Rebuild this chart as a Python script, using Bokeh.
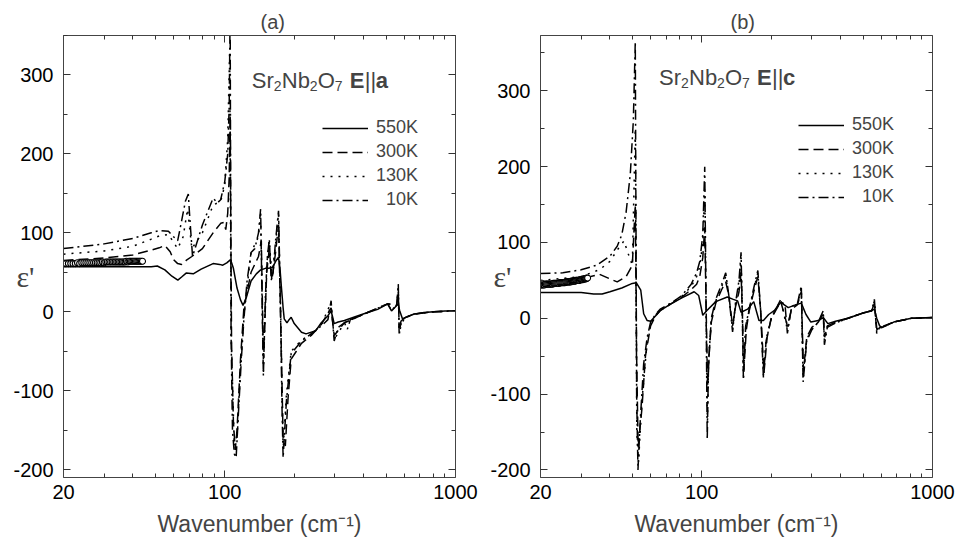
from bokeh.plotting import figure
from bokeh.models import (Range1d, FixedTicker, LogAxis, LinearAxis, Label,
                          Legend, LegendItem, PrintfTickFormatter)
from bokeh.layouts import row
from bokeh.embed import file_html
from bokeh.resources import INLINE

FONT = "Liberation Sans"

# ---------------- tick definitions ----------------
x_major = [20, 100, 1000]
x_minor = [30, 40, 50, 60, 70, 80, 90, 200, 300, 400, 500, 600, 700, 800, 900]
y_major = [-200, -100, 0, 100, 200, 300]
y_minor = [-150, -50, 50, 150, 250, 350]
temps = ["550K", "300K", "130K", "\u00a0\u00a010K"]

# ---------------- panel (a): E || a ----------------
wa_550 = [20, 30, 40, 48, 51, 55, 59, 62.6, 65, 68, 73, 79, 89, 95, 98, 102, 106, 109, 113, 117,
          120, 124, 130, 137, 143, 150, 155, 161, 167, 171, 174, 176, 179, 181, 186, 190, 194, 200,
          215, 225, 248, 262, 280, 289, 293, 298, 310, 330, 370, 416, 460, 508, 528, 556, 566, 572,
          589, 620, 660, 730, 805, 900, 1000]
ea_550 = [57, 57, 57, 57, 58, 53, 45, 40, 44, 49, 48, 54, 61, 60, 59, 62, 66, 55, 30, 15,
          8, 18, 39, 48, 53, 55, 55, 56, 65, 69, 50, 31, 5, -9, -14, -10, -7, -15,
          -26, -28, -24, -14, -5, 1, -6, -15, -13, -11, -6, -1, 3, 10, 1, 8, 10, 2,
          -9, -6, -3, -1, 0, 1, 1]

wa_300 = [20, 30, 40, 48, 52, 55, 58, 60, 62.5, 65, 68, 72, 80, 89, 96, 99, 101, 103, 104.5, 105.5,
          107, 109, 111, 113, 117, 121, 130, 140, 144, 147, 152, 156, 160, 166, 171, 175, 179, 183,
          188, 194, 215, 237, 262, 289, 298, 330, 416, 508, 556, 565, 570, 600, 660, 805, 1000]
ea_300 = [65, 68, 72, 78, 81, 84, 76, 66, 61, 60, 65, 70, 80, 100, 112, 113, 104, 125, 170, 250,
          -40, -140, -175, -150, -60, 5, 50, 70, 90, -60, 50, 80, 40, 75, 110, -20, -160, -170,
          -110, -60, -40, -30, -16, 5, -30, -14, -1, 10, 8, 25, -20, -8, -3, 0, 1]

wa_130 = [20, 30, 40, 48, 52, 57, 60, 62.5, 66, 69, 72, 80, 89, 96, 100, 103, 105, 106.5, 110, 113,
          117, 121, 130, 140, 143, 147, 152, 156, 160, 166, 171, 175, 179, 185, 194, 215, 237, 262,
          289, 298, 330, 416, 508, 556, 565, 570, 600, 660, 805, 1000]
ea_130 = [73, 77, 83, 92, 96, 98, 88, 80, 95, 130, 80, 100, 135, 140, 160, 220, 330, -30, -170, -160,
          -70, -5, 75, 95, 125, -75, 60, 90, 45, 85, 125, -10, -175, -105, -50, -36, -28, -17,
          12, -35, -14, -1, 10, 8, 30, -25, -8, -3, 0, 1]

wa_10 = [20, 30, 40, 48, 52, 57, 59.5, 62.5, 65, 67.5, 69.5, 70.5, 72.5, 80, 89, 93, 96, 100, 103,
         104.5, 105.5, 106.5, 108, 110, 112, 115, 118, 121, 125, 130, 135, 140, 143, 145, 147, 150,
         153, 156, 159, 162, 166, 171, 174, 177, 179, 185, 194, 215, 237, 262, 280, 289, 292, 298,
         310, 330, 340, 350, 416, 508, 528, 556, 565, 570, 580, 600, 660, 805, 1000]
ea_10 = [80, 86, 93, 100, 103, 102, 96, 90, 115, 140, 149, 120, 70, 110, 144, 138, 142, 165, 200,
         260, 380, -30, -150, -180, -185, -120, -60, -10, 40, 75, 80, 100, 130, 20, -81, 20,
         70, 92, 40, 50, 90, 128, 20, -120, -185, -113, -53, -37, -28, -18, -10, 14, -5, -37,
         -20, -14, -22, -10, -1, 10, 2, 8, 35, -30, -12, -8, -3, 0, 1]

wa_pts = [20, 20.5, 21, 21.5, 22, 22.5, 23, 23.5, 24, 24.5, 25, 25.5, 26, 26.5, 27, 27.5, 28,
          28.5, 29, 29.5, 30, 30.5, 31, 31.5, 32, 32.5, 33, 33.5, 34, 34.5, 35, 35.5, 36, 36.5,
          37, 37.5, 38, 38.5, 39, 39.5, 40, 40.5, 41, 41.5, 42, 42.5, 43, 43.5, 44]
ea_pts = [61, 61, 61, 61, 61, 61, 62, 61, 62, 62, 62, 62, 62, 62, 62, 62, 62, 62, 62, 63,
          62, 63, 63, 63, 63, 63, 63, 63, 63, 63, 63, 63, 63, 63, 63, 64, 63, 64, 64, 64,
          64, 64, 64, 64, 64, 64, 64, 64, 64]

# ---------------- panel (b): E || c ----------------
wb_550 = [20, 25, 30, 34, 37, 40, 45, 50, 52, 54.4, 56, 58, 60, 63, 66, 73.5, 82, 92.7, 97, 101,
          105, 115, 129, 137, 143, 148, 158, 168, 177, 185, 195, 206, 220, 237, 251, 270, 283, 297,
          320, 336, 352, 380, 430, 500, 545, 560, 573, 590, 605, 679, 810, 1000]
eb_550 = [34, 34, 34, 32, 32, 35, 40, 46, 47, 37, 6, -3, -4, 3, 10, 19, 27, 35, 30, 4,
          10, 22, 28, 25, 23, 8, 12, 22, -3, -3, 5, 10, 21, 14, 17, 20, 5, -5,
          -3, 1, -7, -4, 0, 7, 10, 12, 0, -10, -12, -5, 0, 1]

wb_300 = [20, 30, 36, 40, 43, 47, 50, 51.5, 52.2, 53, 55, 57, 60, 63, 66, 73.5, 82, 90, 95, 98,
          101, 103, 104.5, 106, 108, 110, 115, 122, 127, 131, 136, 140, 145, 148, 150, 152, 156,
          160, 168, 175, 180, 186, 192, 200, 220, 235, 245, 260, 270, 276, 285, 300, 320, 336,
          341, 350, 380, 430, 500, 545, 560, 574, 590, 605, 679, 810, 1000]
eb_300 = [46, 52, 58, 52, 48, 55, 70, 150, -50, -170, -120, -50, -10, 3, 10, 19, 28, 38, 45, 55,
          80, 120, 10, -90, -40, -5, 20, 38, 48, 30, -10, 15, 35, 60, 5, -70, -15,
          8, 35, 55, 10, -72, -25, 0, 22, -10, 12, 18, 35, -70, -25, -12, -5, 6,
          -25, -10, -5, 0, 7, 10, 20, -15, -12, -11, -5, 0, 1]

wb_130 = [20, 30, 36, 40, 43, 46, 48, 50, 51.5, 52.3, 53.2, 55, 58, 60, 63, 66, 73.5, 82, 90, 95,
          98, 101, 103, 104.5, 105.8, 107, 110, 115, 122, 127, 131, 136, 140, 145, 148, 150, 151.5,
          155, 160, 168, 175, 180, 185, 190, 200, 220, 235, 245, 260, 270, 275, 285, 300, 320,
          336, 340, 350, 380, 430, 500, 545, 560, 573, 590, 605, 679, 810, 1000]
eb_130 = [50, 55, 64, 75, 90, 102, 85, 70, 250, -150, -190, -110, -30, -8, 4, 11, 20, 29, 42, 55,
          68, 100, 170, 5, -140, -55, -2, 23, 42, 55, 30, -15, 18, 45, 80, 2, -78,
          -12, 9, 38, 60, 10, -75, -28, 0, 24, -15, 14, 19, 40, -80, -28, -14, -5,
          8, -30, -11, -6, 0, 7, 10, 23, -18, -12, -12, -5, 0, 1]

wb_10 = [20, 25, 30, 35, 40, 43, 45, 47, 49, 50.5, 51.5, 52.2, 52.9, 54, 56, 58, 60, 63, 66, 73.5,
         82, 90, 95, 98, 101, 103, 104.5, 105.6, 107, 110, 115, 122, 127, 131, 136, 140, 145, 148,
         150, 151.5, 155, 160, 168, 175, 180, 185, 190, 200, 220, 230, 235, 245, 260, 270, 275,
         285, 300, 320, 336, 340, 350, 380, 430, 500, 545, 560, 573, 590, 605, 679, 810, 1000]
eb_10 = [59, 60, 64, 70, 82, 95, 110, 140, 190, 260, 365, -100, -200, -140, -60, -25, -5, 5, 12, 20,
         30, 45, 60, 75, 110, 200, 0, -160, -60, 0, 25, 45, 60, 30, -18, 20, 50, 87,
         0, -80, -10, 10, 40, 63, 10, -78, -30, 0, 25, 15, -20, 15, 20, 43, -84,
         -30, -15, -5, 10, -35, -12, -6, 0, 7, 10, 25, -20, -12, -12, -5, 0, 1]

wb_pts = [20, 20.25, 20.5, 20.75, 21, 21.25, 21.5, 21.75, 22, 22.25, 22.5, 22.75, 23, 23.25,
          23.5, 23.75, 24, 24.25, 24.5, 24.75, 25, 25.25, 25.5, 25.75, 26, 26.25, 26.5, 26.75,
          27, 27.25, 27.5, 27.75, 28, 28.25, 28.5, 28.75, 29, 29.25, 29.5, 29.75, 30, 30.25,
          30.5, 30.75, 31, 31.25, 31.5, 31.75, 32]
eb_pts = [44, 44, 44, 44, 45, 45, 45, 45, 45, 45, 45, 46, 46, 46, 46, 46, 46, 47, 47, 47,
          47, 47, 47, 48, 48, 48, 48, 48, 48, 49, 49, 49, 49, 49, 50, 50, 50, 50, 50, 51,
          51, 51, 51, 52, 52, 52, 52, 53, 53]

DASHES = ["solid", "10 5", "2 6", "10 4 2 4"]


def style_axis(ax, show_labels):
    ax.axis_line_color = "#444444"
    ax.axis_line_width = 1
    ax.major_tick_in = 7
    ax.major_tick_out = 0
    ax.minor_tick_in = 4
    ax.minor_tick_out = 0
    ax.major_tick_line_color = "#333333"
    ax.minor_tick_line_color = "#333333"
    if show_labels:
        ax.major_label_text_font = FONT
        ax.major_label_text_font_size = "20px"
        ax.major_label_text_color = "black"
    else:
        ax.major_label_text_font_size = "1px"
        ax.major_label_text_alpha = 0
        ax.major_label_standoff = 0


def panel(tag, ytop, series, pts, left, right, tag_offset, legend_loc,
          ann_x, ann_y, ann_letter):
    p = figure(width=left + 392 + right, height=547, x_axis_type="log",
               x_range=Range1d(20, 1000), y_range=Range1d(-210, ytop),
               output_backend="svg", toolbar_location=None,
               min_border_left=left, min_border_right=right,
               min_border_top=35, min_border_bottom=70, title=tag)
    p.title.text_font = FONT
    p.title.text_font_size = "20px"
    p.title.text_font_style = "normal"
    p.title.align = "left"
    p.title.offset = tag_offset
    p.title.standoff = 5
    p.grid.visible = False
    p.outline_line_color = None
    p.background_fill_color = "white"

    xt = FixedTicker(ticks=x_major, minor_ticks=x_minor)
    yt = FixedTicker(ticks=y_major, minor_ticks=y_minor)

    xb = p.xaxis[0]
    xb.ticker = xt
    xb.formatter = PrintfTickFormatter(format="%d")
    style_axis(xb, True)
    xb.major_label_standoff = 7
    xb.axis_label = "Wavenumber (cm\u207b\u00b9)"
    xb.axis_label_text_font = FONT
    xb.axis_label_text_font_size = "23px"
    xb.axis_label_text_font_style = "normal"
    xb.axis_label_standoff = 9

    yl = p.yaxis[0]
    yl.ticker = yt
    yl.formatter = PrintfTickFormatter(format="%d")
    style_axis(yl, True)
    yl.major_label_standoff = 10
    yl.axis_label = "\u00a0\n\u03b5'"
    yl.axis_label_orientation = "horizontal"
    yl.axis_label_text_font = "Liberation Serif"
    yl.axis_label_text_font_size = "30px"
    yl.axis_label_text_font_style = "normal"
    yl.axis_label_standoff = -24

    xtop = LogAxis(ticker=xt)
    style_axis(xtop, False)
    p.add_layout(xtop, "above")
    yr = LinearAxis(ticker=yt)
    style_axis(yr, False)
    p.add_layout(yr, "right")

    renderers = []
    for (w, e), dash in zip(series, DASHES):
        r = p.line(w, e, line_color="black", line_width=1.5, line_dash=dash)
        renderers.append(r)
    p.scatter(pts[0], pts[1], marker="circle", size=6, fill_color="white",
              line_color="black", line_width=1.1)

    legend = Legend(items=[LegendItem(label=t, renderers=[r]) for t, r in zip(temps, renderers)],
                    location=legend_loc, glyph_width=46, glyph_height=20, label_height=20,
                    spacing=3, padding=0, margin=0, label_standoff=8,
                    label_text_font=FONT, label_text_font_size="18px",
                    border_line_alpha=0, background_fill_alpha=0)
    p.add_layout(legend)

    # formula annotation
    pieces = [("Sr", 0, 0, "22px", "normal"), ("2", 22, -6, "14px", "normal"),
              ("Nb", 30, 0, "22px", "normal"), ("2", 58, -6, "14px", "normal"),
              ("O", 66, 0, "22px", "normal"), ("7", 83, -6, "14px", "normal"),
              ("E", 98, 0, "22px", "bold"), ("||", 113, 0, "22px", "normal"),
              (ann_letter, 124, 0, "22px", "bold")]
    for txt, dx, dy, fs, st in pieces:
        p.add_layout(Label(x=ann_x, y=ann_y, x_offset=dx, y_offset=dy, text=txt,
                           text_font=FONT, text_font_size=fs, text_font_style=st,
                           text_baseline="alphabetic"))
    return p


pa = panel("(a)", 350,
           [(wa_550, ea_550), (wa_300, ea_300), (wa_130, ea_130), (wa_10, ea_10)],
           (wa_pts, ea_pts), 63, 25, 197, (259, 267), 131, 293, "a")
pb = panel("(b)", 373,
           [(wb_550, eb_550), (wb_300, eb_300), (wb_130, eb_130), (wb_10, eb_10)],
           (wb_pts, eb_pts), 60, 28, 190, (258, 270), 65.3, 318, "c")

layout = row(pa, pb)
open("out.html", "w").write(file_html(layout, INLINE))
